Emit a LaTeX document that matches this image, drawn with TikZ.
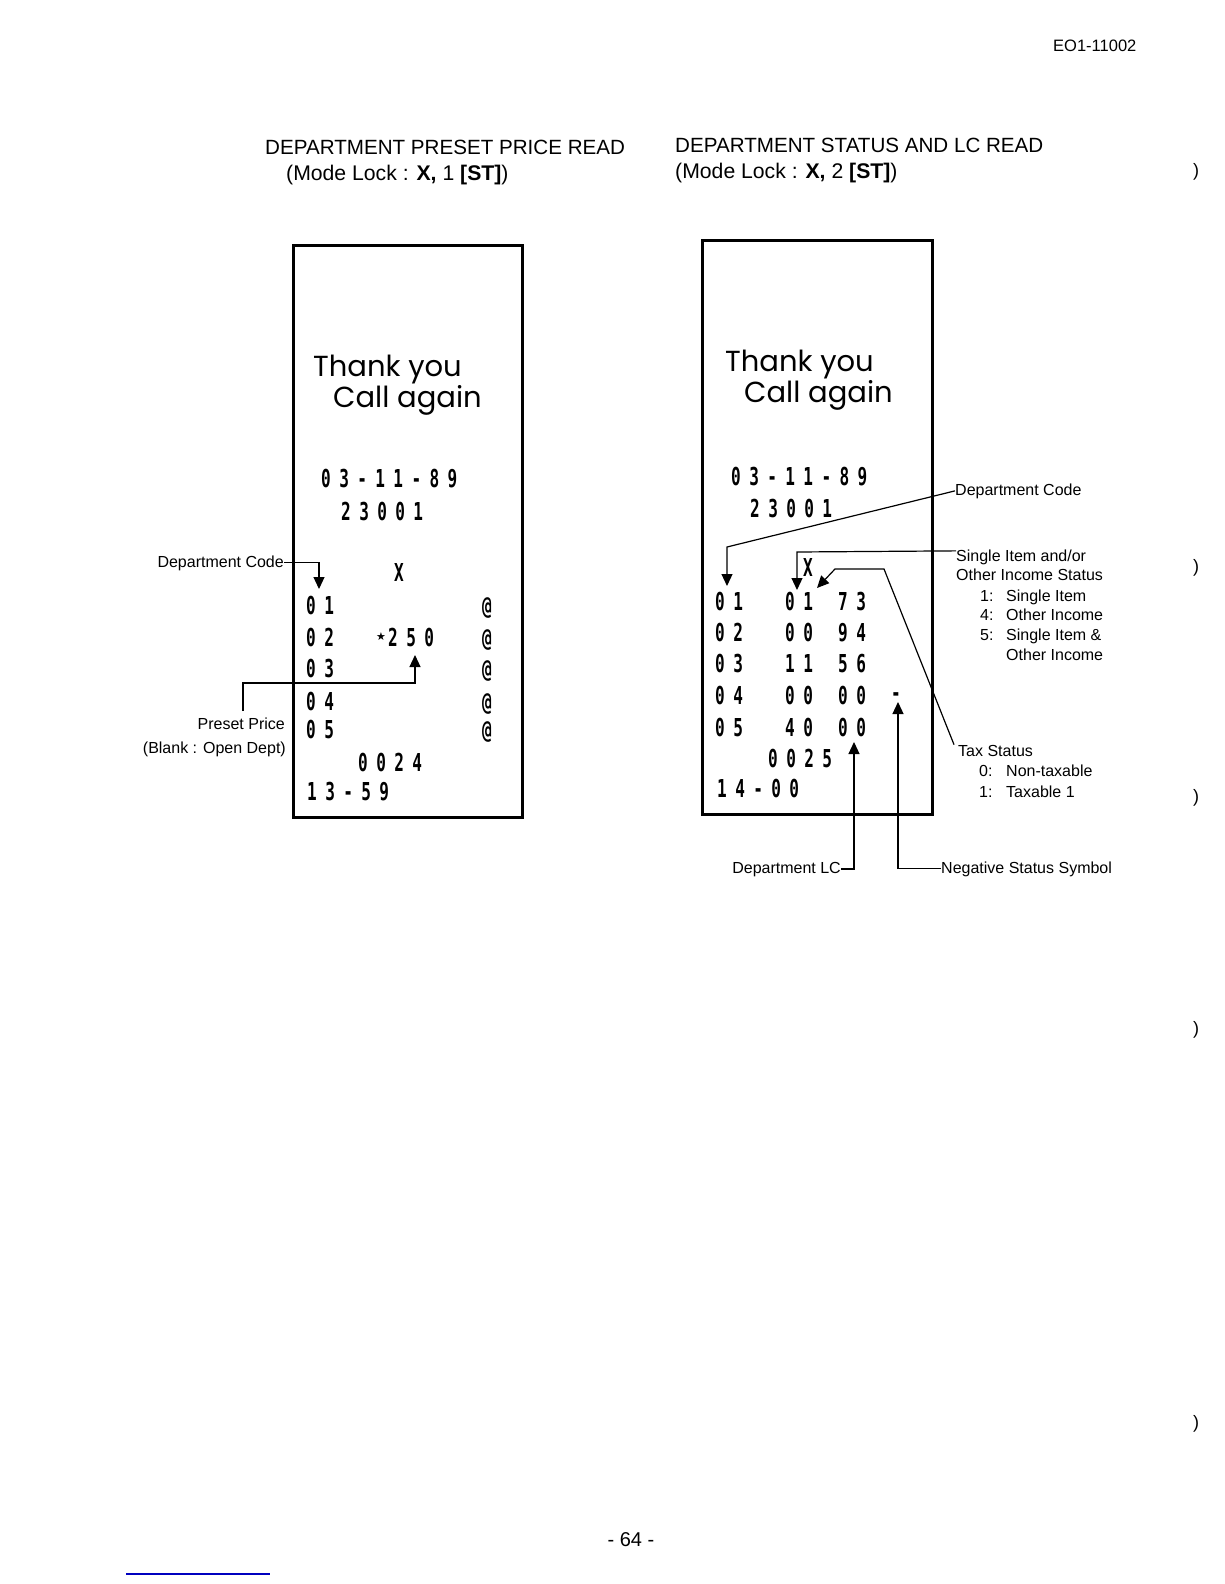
\documentclass[tikz,border=0pt]{standalone}
\usepackage{fontspec}
\setmainfont{Liberation Sans}
\newfontfamily\thankfont{Poppins}
\newfontfamily\rcptfont[FakeStretch=0.65,LetterSpace=34]{DejaVu Sans Mono}
\newfontfamily\symfont{DejaVu Sans}
\usetikzlibrary{arrows.meta}
\begin{document}
\begin{tikzpicture}[x=1pt,y=-1pt,
  hdr/.style={font=\fontsize{20.6}{24}\selectfont, inner sep=0pt, anchor=base west},
  hdrm/.style={font=\fontsize{21.2}{24}\selectfont, inner sep=0pt, anchor=base west},
  lbl/.style={font=\fontsize{16}{19}\selectfont, inner sep=0pt},
  rc/.style={font=\rcptfont\fontsize{24.7}{28}\selectfont\bfseries, inner sep=0pt, anchor=base west},
  ty/.style={font=\thankfont\fontsize{29}{32}\selectfont, inner sep=0pt, anchor=base west},
  conn/.style={line width=1.2pt},
  arrowline/.style={-{Triangle[length=12pt,width=11pt]}},
  receipt/.style={draw, line width=3.2pt, inner sep=0pt, anchor=north west}]
\fill[white] (0,0) rectangle (1224,1584);
\useasboundingbox (0,0) rectangle (1224,1584);

% page furniture
\node[font=\fontsize{16.5}{19}\selectfont, anchor=base west, inner sep=0pt] (doc) at (1053,52) {EO1-11002};
\node[font=\fontsize{20}{24}\selectfont, anchor=base, inner sep=0pt] (page) at (631,1546) {- 64 -};
\draw[blue!75!black, line width=1.2pt] (126,1574) -- (270,1574);
\foreach \py/\nm in {172/pa,568/pb,798/pc,1030/pd,1424/pe}
  \node[font=\fontsize{18}{20}\selectfont, inner sep=0pt] (\nm) at (1196,\py) {)};

% headers
\node[hdr] (h1) at (265,154) {DEPARTMENT PRESET PRICE READ};
\node[hdrm] (h1m) at (286,180) {(Mode Lock : \textbf{X,} 1 \textbf{[ST]})};
\node[hdr] (h2) at (675,152) {DEPARTMENT STATUS AND LC READ};
\node[hdrm] (h2m) at (675,178) {(Mode Lock : \textbf{X,} 2 \textbf{[ST]})};

% ---------------- left receipt
\node[receipt, minimum width=229pt, minimum height=572pt] (box1) at (292,244) {};
\node[ty] (ty1) at (313,376) {Thank you};
\node[ty] (ca1) at (333,407) {Call again};
\node[rc] (d1) at (321,487) {03-11-89};
\node[rc] (n1) at (341,520) {23001};
\node[rc] (x1) at (394,581) {X};
\node[rc] (r11) at (306,614) {01};
\node[rc] (r12) at (306,646) {02};
\node[rc] (r13) at (306,677) {03};
\node[rc] (r14) at (306,710) {04};
\node[rc] (r15) at (306,738) {05};
\node[font=\symfont\fontsize{11}{12}\selectfont, inner sep=0pt] (st1) at (381,637) {★};
\node[rc] (p1) at (388,646) {250};
\node[rc] (a11) at (482,614) {@};
\node[rc] (a12) at (482,646) {@};
\node[rc] (a13) at (482,677) {@};
\node[rc] (a14) at (482,710) {@};
\node[rc] (a15) at (482,738) {@};
\node[rc] (c1) at (358,771) {0024};
\node[rc] (t1) at (307,800) {13-59};

% left labels
\node[lbl, anchor=base east] (lDC1) at (284,567) {Department Code};
\coordinate (tDC1) at (319,589);
\draw[conn, arrowline] (lDC1.east) -| (tDC1);

\node[lbl, anchor=base east] (lPP1) at (285,729) {Preset Price};
\node[lbl, anchor=base east] (lPP2) at (286,753) {(Blank : Open Dept)};
\coordinate (pp0) at (243,711);
\coordinate (pp1) at (243,683);
\coordinate (tPP) at (415,655);
\draw[conn, arrowline] (pp0) -- (pp1) -| (tPP);

% ---------------- right receipt
\node[receipt, minimum width=230pt, minimum height=574pt] (box2) at (701,239) {};
\node[ty] (ty2) at (725,371) {Thank you};
\node[ty] (ca2) at (744,402) {Call again};
\node[rc] (d2) at (731,485) {03-11-89};
\node[rc] (n2) at (750,517) {23001};
\node[rc] (x2) at (803,576) {X};
\node[rc] (q11) at (715,610) {01};
\node[rc] (q12) at (785,610) {01};
\node[rc] (q13) at (838,610) {73};
\node[rc] (q21) at (715,641) {02};
\node[rc] (q22) at (785,641) {00};
\node[rc] (q23) at (838,641) {94};
\node[rc] (q31) at (715,672) {03};
\node[rc] (q32) at (785,672) {11};
\node[rc] (q33) at (838,672) {56};
\node[rc] (q41) at (715,704) {04};
\node[rc] (q42) at (785,704) {00};
\node[rc] (q43) at (838,704) {00};
\node[rc] (neg) at (891,701) {-};
\node[rc] (q51) at (715,736) {05};
\node[rc] (q52) at (785,736) {40};
\node[rc] (q53) at (838,736) {00};
\node[rc] (c2) at (768,767) {0025};
\node[rc] (t2) at (717,797) {14-00};

% right labels
\node[lbl, anchor=base west] (lDC2) at (955,495) {Department Code};
\coordinate (bDC2) at (727,547);
\coordinate (tDC2) at (727,586);
\draw[conn, arrowline] (lDC2.west) -- (bDC2) -- (tDC2);

\node[lbl, anchor=base west] (lSI) at (956,561) {Single Item and/or};
\node[lbl, anchor=base west] (lSI2) at (956,580) {Other Income Status};
\node[lbl, anchor=base west] (s1n) at (980,601) {1:};
\node[lbl, anchor=base west] (s1t) at (1006,601) {Single Item};
\node[lbl, anchor=base west] (s4n) at (980,620) {4:};
\node[lbl, anchor=base west] (s4t) at (1006,620) {Other Income};
\node[lbl, anchor=base west] (s5n) at (980,640) {5:};
\node[lbl, anchor=base west] (s5t) at (1006,640) {Single Item \&};
\node[lbl, anchor=base west] (s5u) at (1006,660) {Other Income};
\coordinate (bSI) at (797,552);
\coordinate (tSI) at (797,590);
\draw[conn, arrowline] ([yshift=6pt]lSI.west) -- (bSI) -- (tSI);

\node[lbl, anchor=base west] (lTS) at (958,756) {Tax Status};
\node[lbl, anchor=base west] (t0n) at (979,776) {0:};
\node[lbl, anchor=base west] (t0t) at (1006,776) {Non-taxable};
\node[lbl, anchor=base west] (t1n) at (979,797) {1:};
\node[lbl, anchor=base west] (t1t) at (1006,797) {Taxable 1};
\coordinate (bTS1) at (884,569);
\coordinate (bTS2) at (835,569);
\coordinate (tTS) at (817,588);
\draw[conn, arrowline] ([xshift=-4pt]lTS.north west) -- (bTS1) -- (bTS2) -- (tTS);

\node[lbl, anchor=base east] (lLC) at (841,873) {Department LC};
\coordinate (tLC) at (854,742);
\draw[conn, arrowline] (lLC.east) -| (tLC);

\node[lbl, anchor=base west] (lNS) at (941,873) {Negative Status Symbol};
\coordinate (tNS) at (898,702);
\draw[conn, arrowline] (lNS.west) -| (tNS);
\end{tikzpicture}
\end{document}
